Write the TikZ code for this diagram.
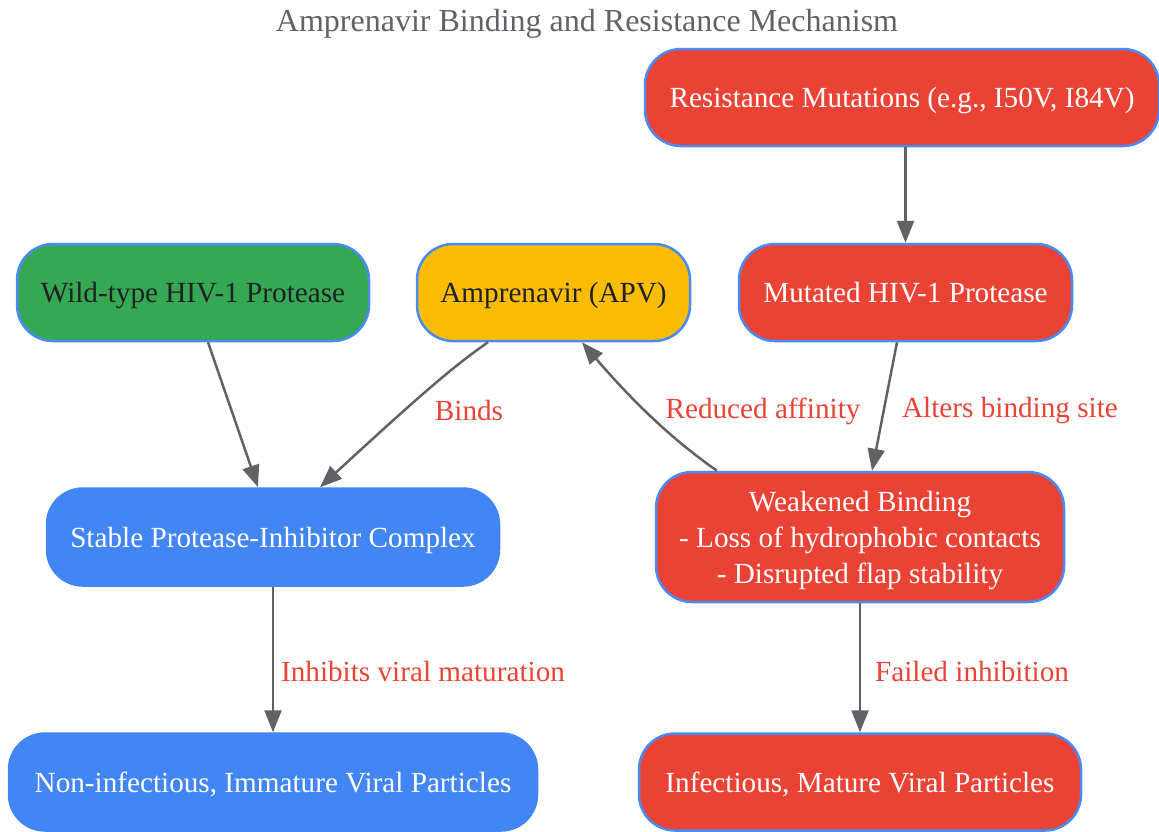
\documentclass[tikz,border=0pt]{standalone}
\usepackage{fontspec}
\setmainfont{Liberation Serif}
\usetikzlibrary{arrows.meta}
\definecolor{gblue}{HTML}{4285F4}
\definecolor{gborder}{HTML}{4A8AF4}
\definecolor{ggreen}{HTML}{34A853}
\definecolor{gyellow}{HTML}{FBBC04}
\definecolor{gred}{HTML}{EA4335}
\definecolor{ggray}{HTML}{5F6368}
\definecolor{gdark}{HTML}{202124}
\tikzset{
  box/.style={rounded corners=36pt, draw=gborder, line width=2.5pt,
    minimum height=97pt, inner sep=0pt, align=center, text depth=0pt,
    font=\fontsize{29.2}{36}\selectfont},
  greenbox/.style={box, fill=ggreen, text=gdark},
  yellowbox/.style={box, fill=gyellow, text=gdark},
  redbox/.style={box, fill=gred, text=white},
  bluebox/.style={box, fill=gblue, draw=gblue, text=white},
  link/.style={draw=ggray, line width=2.5pt,
    -{Triangle[length=22pt, width=17pt]}},
  lbl/.style={text=gred, inner sep=0pt, font=\fontsize{29.2}{36}\selectfont}
}
\begin{document}
\begin{tikzpicture}[x=1pt, y=-1pt]
  \useasboundingbox (0,0) rectangle (1159,831);
  \node (title) at (587,24) [text=ggray, font=\fontsize{32}{36}\selectfont]
    {Amprenavir Binding and Resistance Mechanism};
  \node (wild) at (193,292.5) [greenbox, minimum width=352pt] {Wild-type HIV-1 Protease};
  \node (apv) at (553.5,292.5) [yellowbox, minimum width=273pt] {Amprenavir (APV)};
  \node (resist) at (902,97.5) [redbox, minimum width=514pt] {Resistance Mutations (e.g., I50V, I84V)};
  \node (mutated) at (905.5,292.5) [redbox, minimum width=333pt] {Mutated HIV-1 Protease};
  \node (stable) at (273,537) [bluebox, minimum width=452pt] {Stable Protease-Inhibitor Complex};
  \node (weak) at (860,537) [redbox, minimum width=408pt, minimum height=130pt]
    {Weakened Binding\\- Loss of hydrophobic contacts\\- Disrupted flap stability};
  \node (immature) at (273,782) [bluebox, minimum width=528pt] {Non-infectious, Immature Viral Particles};
  \node (mature) at (860,782) [redbox, minimum width=442pt] {Infectious, Mature Viral Particles};
  % edge labels
  \node (binds) at (469,411) [lbl] {Binds};
  \node (reduced) at (763,411) [lbl] {Reduced affinity};
  \node (alters) at (1010,411) [lbl] {Alters binding site};
  \node (inhibits) at (423,671) [lbl] {Inhibits viral maturation};
  \node (failed) at (972,671) [lbl] {Failed inhibition};
  % connectors
  \draw[link] ([xshift=15pt]wild.south) -- ([xshift=-15pt]stable.north);
  \draw[link] ([xshift=-65.5pt]apv.south) .. controls (455,365) and (420,395) .. ([xshift=47pt]stable.north);
  \draw[link] ([xshift=-143pt]weak.north) .. controls (680,445) and (640,410) .. ([xshift=28.5pt]apv.south);
  \draw[link] ([xshift=-8.5pt]mutated.south) -- ([xshift=12pt]weak.north);
  \draw[link] ([xshift=3.5pt]resist.south) -- (mutated.north);
  \draw[link] (stable) -- (immature);
  \draw[link] (weak) -- (mature);
\end{tikzpicture}
\end{document}
